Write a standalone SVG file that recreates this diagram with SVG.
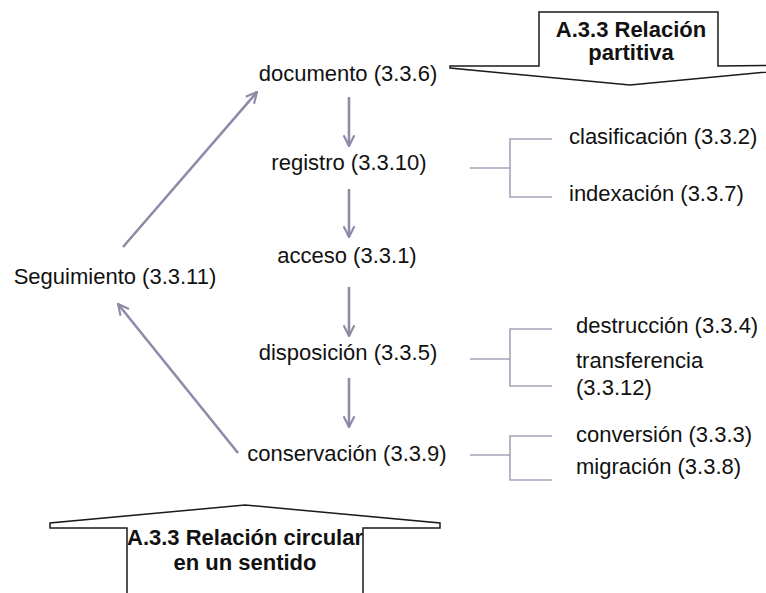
<svg xmlns="http://www.w3.org/2000/svg" width="766" height="593" viewBox="0 0 766 593">
  <style>
    .lbl { font-family: "Liberation Sans", Arial, sans-serif; font-size: 22px; fill: #111; }
    .callout-txt { font-family: "Liberation Sans", Arial, sans-serif; font-size: 22px; font-weight: bold; fill: #111; text-anchor: middle; }
    .mid { text-anchor: middle; }
    .flow { stroke: #8c8ca8; stroke-width: 2.6; fill: none; marker-end: url(#head); }
    .brace { stroke: #a4a4ba; stroke-width: 1.6; fill: none; }
    .callout { fill: #fff; stroke: #1a1a1a; stroke-width: 1.5; stroke-linejoin: miter; }
  </style>
  <defs>
    <marker id="head" viewBox="0 0 12 12" refX="11" refY="6" markerWidth="5" markerHeight="5" orient="auto" markerUnits="strokeWidth">
      <path d="M1,1 L11,6 L1,11" fill="none" stroke="#8c8ca8" stroke-width="2" stroke-linejoin="miter"/>
    </marker>
  </defs>

  <rect width="766" height="593" fill="#fff"/>

  <!-- block arrow callouts -->
  <g id="callout-partitiva">
    <polygon class="callout" points="450,66 539,66 539,12 718,12 718,66 810,65 810,68 630,85 450,68"/>
    <text class="callout-txt" x="631" y="37">A.3.3 Relación</text>
    <text class="callout-txt" x="631" y="60">partitiva</text>
  </g>
  <g id="callout-circular">
    <polygon class="callout" points="50,528 127,528 127,600 363,600 363,528 440,528 440,523 245,505 50,523"/>
    <text class="callout-txt" x="245" y="545">A.3.3 Relación circular</text>
    <text class="callout-txt" x="245" y="570">en un sentido</text>
  </g>

  <!-- connectors -->
  <g id="connectors">
    <line class="flow" x1="349" y1="97" x2="349" y2="146"/>
    <line class="flow" x1="349" y1="189" x2="349" y2="237"/>
    <line class="flow" x1="349" y1="287" x2="349" y2="336"/>
    <line class="flow" x1="349" y1="378" x2="349" y2="427"/>
    <line class="flow" x1="123" y1="247" x2="257" y2="92"/>
    <line class="flow" x1="238" y1="453" x2="118" y2="304"/>
    <path class="brace" d="M470,168 H510 M552,139 H510 V197 H552"/>
    <path class="brace" d="M470,359 H510 M552,329 H510 V386 H552"/>
    <path class="brace" d="M470,455 H510 M552,436 H510 V480 H552"/>
  </g>

  <!-- main cycle -->
  <g id="documento"><text class="lbl mid" x="348" y="81">documento (3.3.6)</text></g>
  <g id="registro"><text class="lbl mid" x="349" y="170">registro (3.3.10)</text></g>
  <g id="acceso"><text class="lbl mid" x="347" y="263">acceso (3.3.1)</text></g>
  <g id="disposicion"><text class="lbl mid" x="348" y="360">disposición (3.3.5)</text></g>
  <g id="conservacion"><text class="lbl mid" x="347" y="461">conservación (3.3.9)</text></g>
  <g id="seguimiento"><text class="lbl mid" x="115" y="284">Seguimiento (3.3.11)</text></g>

  <!-- parts -->
  <g id="clasificacion"><text class="lbl" x="569" y="144">clasificación (3.3.2)</text></g>
  <g id="indexacion"><text class="lbl" x="569" y="201">indexación (3.3.7)</text></g>
  <g id="destruccion"><text class="lbl" x="576" y="333">destrucción (3.3.4)</text></g>
  <g id="transferencia">
    <text class="lbl" x="576" y="368">transferencia</text>
    <text class="lbl" x="576" y="395">(3.3.12)</text>
  </g>
  <g id="conversion"><text class="lbl" x="576" y="442">conversión (3.3.3)</text></g>
  <g id="migracion"><text class="lbl" x="576" y="474">migración (3.3.8)</text></g>
</svg>
